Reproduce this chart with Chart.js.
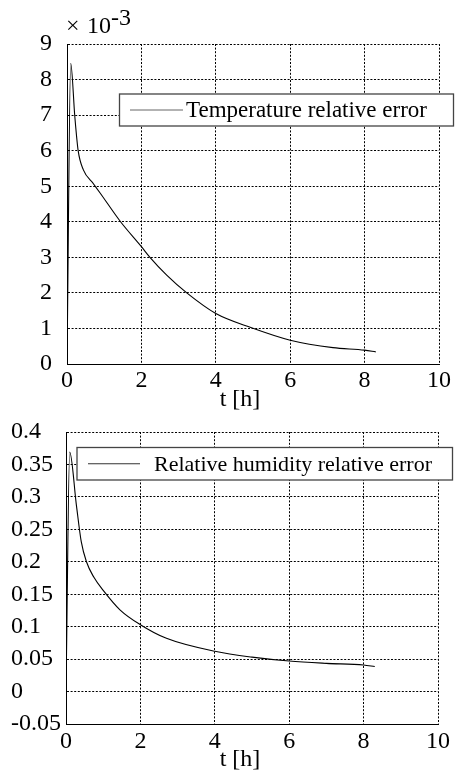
<!DOCTYPE html>
<html>
<head>
<meta charset="utf-8">
<script src="https://cdn.jsdelivr.net/npm/chart.js@4.4.1/dist/chart.umd.min.js"></script>
<style>
    html, body { margin: 0; padding: 0; background: #fff; }
    #topChart { position: absolute; left: 0; top: 0; }
    #botChart { position: absolute; left: 0; top: 410px; }
</style>
</head>
<body>
<canvas id="topChart" width="468" height="410"></canvas>
<canvas id="botChart" width="468" height="367"></canvas>
<script>
// --- DATA ---
// temperature relative error, values in units of 10^-3
const tempT   = [0, 0.1, 0.21, 0.3, 0.44, 0.71, 0.89, 1.44, 2.0, 2.23, 2.68, 3.22, 4.0, 4.96, 6.0, 7.15, 8.0, 8.3];
const tempErr = [0, 8.46, 6.96, 6.0, 5.46, 5.07, 4.81, 4.0, 3.3, 3.0, 2.5, 2.0, 1.42, 1.02, 0.67, 0.46, 0.39, 0.34];

// relative humidity relative error
const humT   = [0, 0.1, 0.28, 0.41, 0.55, 0.75, 1.0, 1.45, 2.0, 2.7, 4.0, 5.0, 6.0, 7.0, 8.0, 8.3];
const humErr = [0, 0.369, 0.287, 0.231, 0.2, 0.176, 0.156, 0.126, 0.103, 0.082, 0.062, 0.053, 0.047, 0.0435, 0.041, 0.0385];

const xTicks = [0, 2, 4, 6, 8, 10];
const tempTicks = [0, 1, 2, 3, 4, 5, 6, 7, 8, 9];
const humTicks = [-0.05, 0, 0.05, 0.1, 0.15, 0.2, 0.25, 0.3, 0.35, 0.4];

const FONT = "'Liberation Serif', 'DejaVu Serif', serif";

// --- LEGEND / EXTRA TEXT PLUGIN ---
const decorPlugin = {
    id: 'decor',
    afterDraw(chart, args, o) {
        const ctx = chart.ctx;
        const b = o.box;
        ctx.save();
        ctx.fillStyle = '#fff';
        ctx.fillRect(b.x, b.y, b.w, b.h);
        ctx.strokeStyle = '#444';
        ctx.lineWidth = 1.3;
        ctx.strokeRect(b.x, b.y, b.w, b.h);
        ctx.strokeStyle = o.sampleColor;
        ctx.lineWidth = 1;
        ctx.beginPath();
        ctx.moveTo(b.lineFrom, b.y + b.h / 2);
        ctx.lineTo(b.lineTo, b.y + b.h / 2);
        ctx.stroke();
        ctx.fillStyle = '#000';
        ctx.font = o.labelSize + 'px ' + FONT;
        ctx.textBaseline = 'middle';
        ctx.textAlign = 'left';
        ctx.fillText(o.label, b.textX, b.y + b.h / 2 + 1);

        // axis title
        ctx.font = '24px ' + FONT;
        ctx.textAlign = 'center';
        ctx.fillText('t [h]', o.titleX, o.titleY);

        // exponent marker
        if (o.exponent) {
            ctx.textAlign = 'left';
            ctx.textBaseline = 'alphabetic';
            ctx.fillText('\u00d7', 66, 33);
            ctx.fillText('10', 87, 33);
            ctx.fillText('-3', 111, 25);
        }
        ctx.restore();
    }
};

function makeChart(id, xs, ys, yTicks, yMin, yMax, cfg) {
    const pts = xs.map((x, i) => ({ x: x, y: ys[i] }));
    return new Chart(document.getElementById(id), {
        type: 'line',
        data: {
            datasets: [{
                data: pts,
                borderColor: '#000',
                borderWidth: 1.1,
                pointRadius: 0,
                fill: false,
                cubicInterpolationMode: 'monotone'
            }]
        },
        options: {
            responsive: false,
            animation: false,
            layout: { padding: cfg.padding },
            plugins: {
                legend: { display: false },
                tooltip: { enabled: false },
                decor: cfg.decor
            },
            scales: {
                x: {
                    type: 'linear',
                    min: 0, max: 10,
                    afterBuildTicks: s => { s.ticks = xTicks.map(v => ({ value: v })); },
                    afterFit: s => { s.height = cfg.xHeight; },
                    grid: { color: '#000', drawTicks: false, tickLength: 0 },
                    border: { display: true, color: '#000', width: 1, dash: [2, 1.6] },
                    ticks: { color: '#000', font: { family: FONT, size: 24 }, padding: cfg.xPad, maxRotation: 0 }
                },
                y: {
                    min: yMin, max: yMax,
                    afterBuildTicks: s => { s.ticks = yTicks.map(v => ({ value: v })); },
                    afterFit: s => { s.width = cfg.yWidth; },
                    grid: { color: '#000', drawTicks: false, tickLength: 0 },
                    border: { display: true, color: '#000', width: 1, dash: [2, 1.6] },
                    ticks: {
                        color: '#000', font: { family: FONT, size: 24 },
                        padding: cfg.yPad, crossAlign: cfg.crossAlign,
                        callback: v => String(+v.toFixed(2))
                    }
                }
            }
        },
        plugins: [decorPlugin]
    });
}

makeChart('topChart', tempT, tempErr, tempTicks, 0, 9, {
    padding: { left: 0, right: 29, top: 44, bottom: 0 },
    xHeight: 46, xPad: 2, yWidth: 67, yPad: 15, crossAlign: 'near',
    decor: {
        box: { x: 119.5, y: 94, w: 334, h: 32, lineFrom: 130, lineTo: 183, textX: 186 },
        label: 'Temperature relative error',
        labelSize: 23,
        sampleColor: '#666',
        titleX: 240, titleY: 400,
        exponent: true
    }
});

makeChart('botChart', humT, humErr, humTicks, -0.05, 0.4, {
    padding: { left: 11, right: 30, top: 22, bottom: 0 },
    xHeight: 53, xPad: 3, yWidth: 55, yPad: 0, crossAlign: 'far',
    decor: {
        box: { x: 77, y: 37.5, w: 375.5, h: 32.5, lineFrom: 88, lineTo: 140, textX: 154 },
        label: 'Relative humidity relative error',
        labelSize: 22,
        sampleColor: '#333',
        titleX: 240, titleY: 350,
        exponent: false
    }
});
</script>
</body>
</html>
